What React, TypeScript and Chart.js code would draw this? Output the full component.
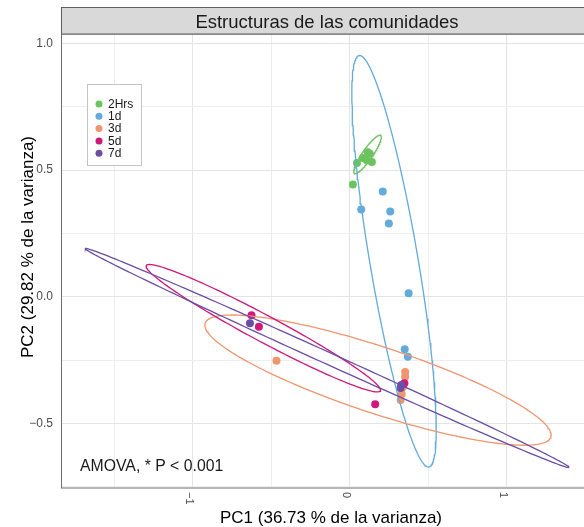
import React, { useEffect, useRef } from "react";
import { Chart, registerables } from "chart.js";
Chart.register(...registerables);

// ---- data ----
const groups = ["2Hrs", "1d", "3d", "5d", "7d"];
const colors = ["#6cc45f", "#62abdb", "#f0956e", "#d0177a", "#6a4fa5"];

const pts2Hrs = [[0.114, 0.571], [0.127, 0.565], [0.083, 0.548], [0.045, 0.528], [0.140, 0.532], [0.105, 0.540], [0.019, 0.443]];
const pts1d = [[0.209, 0.416], [0.072, 0.344], [0.257, 0.337], [0.248, 0.289], [0.374, 0.014], [0.349, -0.207], [0.369, -0.237]];
const pts3d = [[-0.468, -0.253], [0.352, -0.297], [0.352, -0.316], [0.337, -0.358], [0.330, -0.384], [0.323, -0.408]];
const pts5d = [[-0.627, -0.073], [-0.580, -0.119], [0.161, -0.425], [0.347, -0.342]];
const pts7d = [[-0.637, -0.105], [0.327, -0.349], [0.322, -0.360]];

// ellipses: centre (cx, cy) and two conjugate semi-diameters (ax, ay), (bx, by)
const ell2Hrs = { cx: 0.112, cy: 0.562, ax: 0.0880, ay: 0.0680, bx: 0, by: 0.0340 };
const ell1d = { cx: 0.281, cy: 0.140, ax: -0.2193, ay: 0.8126, bx: 0.1558, by: 0 };
const ell3d = { cx: 0.179, cy: -0.3294, ax: 1.103, ay: -0.217, bx: 0, by: 0.1381 };
const ell5d = { cx: -0.5518, cy: -0.1243, ax: 0.747, ay: -0.2446, bx: 0, by: 0.0592 };
const ell7d = { cx: -0.145, cy: -0.2418, ax: 1.5417, ay: -0.432, bx: 0, by: 0.0256 };

const xGridValues = [-1.5, -1, -0.5, 0, 0.5, 1, 1.5];
const yGridValues = [-0.75, -0.5, -0.25, 0, 0.25, 0.5, 0.75, 1.0];
const xTickLabels = [[-1, "\u22121"], [0, "0"], [1, "1"]];

const titleText = "Estructuras de las comunidades";
const xTitle = "PC1 (36.73 % de la varianza)";
const yTitle = "PC2 (29.82 % de la varianza)";
const noteText = "AMOVA, * P < 0.001";

const FONT = "'Liberation Sans', Arial, Helvetica, sans-serif";

function ellipseOutline(e: any) {
  const out: { x: number; y: number }[] = [];
  const n = 200;
  for (let i = 0; i <= n; i++) {
    const t = (i / n) * Math.PI * 2;
    out.push({
      x: e.cx + e.ax * Math.cos(t) + e.bx * Math.sin(t),
      y: e.cy + e.ay * Math.cos(t) + e.by * Math.sin(t),
    });
  }
  return out;
}

const overlay = {
  id: "overlay",
  afterDraw(chart: any) {
    const ctx = chart.ctx;
    const a = chart.chartArea;
    const xs = chart.scales.x;
    ctx.save();
    // panel border
    ctx.strokeStyle = "#6e6e6e";
    ctx.lineWidth = 1;
    ctx.strokeRect(a.left + 0.5, a.top, a.right - a.left, a.bottom - a.top);
    // strip
    ctx.fillStyle = "#d9d9d9";
    ctx.fillRect(a.left, 7, a.right - a.left, a.top - 7);
    ctx.strokeStyle = "#5f5f5f";
    ctx.strokeRect(a.left + 0.5, 7.5, a.right - a.left, a.top - 7.5);
    ctx.fillStyle = "#1a1a1a";
    ctx.font = `18.5px ${FONT}`;
    ctx.textAlign = "center";
    ctx.textBaseline = "alphabetic";
    ctx.fillText(titleText, 327, 28);

    // x tick labels (rotated clockwise)
    ctx.fillStyle = "#4d4d4d";
    ctx.font = `11px ${FONT}`;
    for (const [v, lab] of xTickLabels as any) {
      const px = xs.getPixelForValue(v) - 4;
      ctx.save();
      ctx.translate(px, 492);
      ctx.rotate(Math.PI / 2);
      ctx.textAlign = "left";
      ctx.textBaseline = "middle";
      ctx.fillText(lab, 0, 0);
      ctx.restore();
    }

    // axis titles
    ctx.fillStyle = "#000";
    ctx.font = `17px ${FONT}`;
    ctx.textAlign = "center";
    ctx.textBaseline = "alphabetic";
    ctx.fillText(xTitle, 331, 523);
    ctx.save();
    ctx.translate(33, 247);
    ctx.rotate(-Math.PI / 2);
    ctx.fillText(yTitle, 0, 0);
    ctx.restore();

    // legend
    ctx.fillStyle = "#fff";
    ctx.fillRect(87, 84, 54.5, 82);
    ctx.strokeStyle = "#c4c4c4";
    ctx.strokeRect(87.5, 84.5, 54, 81);
    ctx.font = `12px ${FONT}`;
    ctx.textAlign = "left";
    ctx.textBaseline = "middle";
    groups.forEach((g, i) => {
      const y = 104 + 12.3 * i;
      ctx.beginPath();
      ctx.arc(99, y, 3.5, 0, Math.PI * 2);
      ctx.fillStyle = colors[i];
      ctx.fill();
      ctx.fillStyle = "#1a1a1a";
      ctx.fillText(g, 108, y + 0.5);
    });

    // annotation
    ctx.fillStyle = "#1a1a1a";
    ctx.font = `15.8px ${FONT}`;
    ctx.textAlign = "left";
    ctx.textBaseline = "alphabetic";
    ctx.fillText(noteText, 80, 471);
    ctx.restore();
  },
};

export default function App() {
  const ref = useRef<HTMLCanvasElement>(null);
  useEffect(() => {
    if (!ref.current) return;
    const pointSets = [pts2Hrs, pts1d, pts3d, pts5d, pts7d];
    const ellSets = [ell2Hrs, ell1d, ell3d, ell5d, ell7d];
    const datasets: any[] = [];
    pointSets.forEach((p, i) => {
      datasets.push({
        label: groups[i],
        data: p.map(([x, y]) => ({ x, y })),
        backgroundColor: colors[i],
        borderColor: colors[i],
        pointRadius: 4,
        pointBorderWidth: 0,
        order: 20 - i,
      });
    });
    ellSets.forEach((e, i) => {
      datasets.push({
        label: groups[i] + " ellipse",
        data: ellipseOutline(e),
        showLine: true,
        borderColor: colors[i],
        borderWidth: 1.3,
        pointRadius: 0,
        fill: false,
        tension: 0,
        order: 10 - i,
      });
    });
    const chart = new Chart(ref.current, {
      type: "scatter",
      data: { datasets },
      options: {
        responsive: false,
        animation: false,
        layout: { padding: { top: 34, right: 3, left: 0, bottom: 0 } },
        plugins: { legend: { display: false }, tooltip: { enabled: false } },
        scales: {
          x: {
            type: "linear",
            min: -1.841,
            max: 1.568,
            afterBuildTicks: (s: any) => {
              s.ticks = xGridValues.map((v) => ({ value: v }));
            },
            afterFit: (s: any) => {
              s.height = 39;
            },
            ticks: { display: false },
            border: { display: false },
            grid: {
              drawTicks: false,
              color: (c: any) => (Number.isInteger(c.tick?.value) ? "#e4e4e4" : "#eeeeee"),
              lineWidth: 1,
            },
          },
          y: {
            type: "linear",
            min: -0.7554,
            max: 1.0375,
            afterBuildTicks: (s: any) => {
              s.ticks = yGridValues.map((v) => ({ value: v }));
            },
            afterFit: (s: any) => {
              s.width = 61;
            },
            ticks: {
              padding: 8,
              color: "#4d4d4d",
              font: { family: FONT, size: 12 },
              callback: (v: any) => {
                const n = Number(v);
                if (Math.abs(n * 2 - Math.round(n * 2)) > 1e-6) return "";
                return n.toFixed(1).replace("-", "\u2212");
              },
            },
            border: { display: false },
            grid: {
              drawTicks: false,
              color: (c: any) => {
                const v = c.tick?.value ?? 0;
                return Math.abs(v * 2 - Math.round(v * 2)) < 1e-6 ? "#e4e4e4" : "#eeeeee";
              },
              lineWidth: 1,
            },
          },
        },
      },
      plugins: [overlay],
    });
    return () => chart.destroy();
  }, []);
  return (
    <div style={{ position: "fixed", left: 0, top: 0, width: 584, height: 527, overflow: "hidden", background: "#fff" }}>
      <canvas ref={ref} width={600} height={527} style={{ display: "block", width: 600, height: 527 }} />
    </div>
  );
}
